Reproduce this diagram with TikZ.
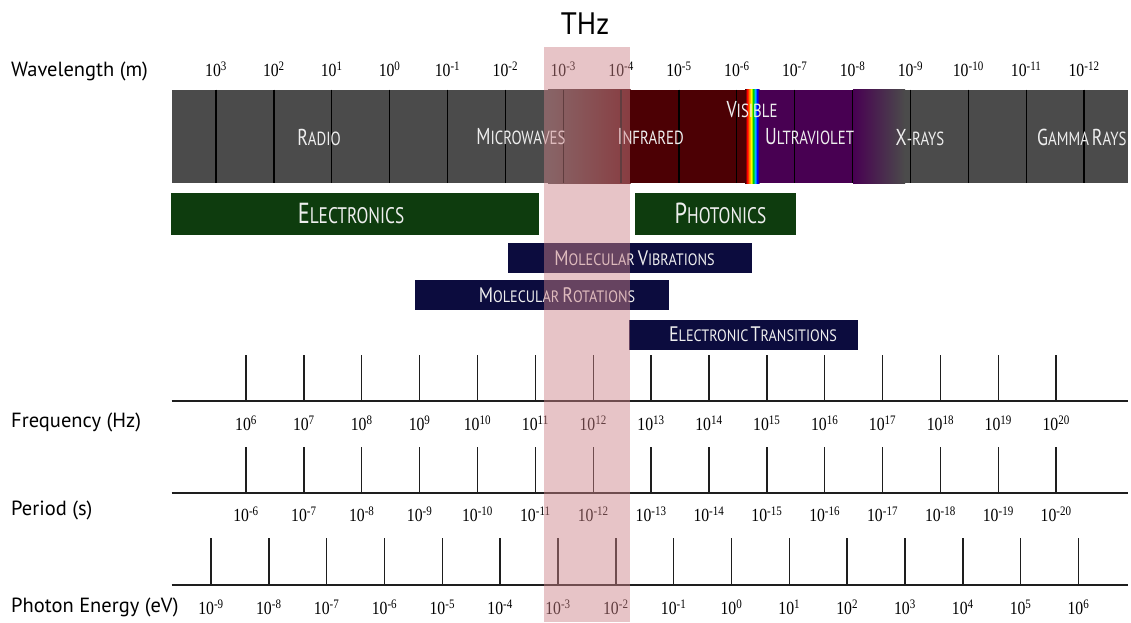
\documentclass[tikz,border=0pt]{standalone}
\usepackage{fontspec}
\setmainfont{Liberation Serif}
\newfontfamily\lab{PT Sans}
\newfontfamily\thzf[FakeStretch=0.93]{PT Sans}
\newfontfamily\labc[FakeStretch=0.78]{PT Sans}
\newfontfamily\labb[FakeStretch=0.77]{PT Sans}
\newfontfamily\labm[FakeStretch=0.86]{PT Sans}
\newfontfamily\numf[FakeStretch=0.85]{Liberation Serif}
\definecolor{bandgray}{RGB}{75,75,75}
\definecolor{irred}{RGB}{76,0,4}
\definecolor{uvpurp}{RGB}{72,0,82}
\definecolor{elgreen}{RGB}{14,60,14}
\definecolor{navyb}{RGB}{12,12,62}
\definecolor{thzpink}{RGB}{205,130,135}
\definecolor{axisk}{RGB}{30,30,30}
\definecolor{txtw}{RGB}{238,238,238}
\newcommand\capsA[4]{{\fontsize{#1}{#1}\selectfont #3}{\fontsize{#2}{#2}\selectfont #4}}
\newcommand\bandsc[2]{\capsA{23}{19}{#1}{#2}}
\newcommand\barsc[2]{\capsA{29}{22.5}{#1}{#2}}
\newcommand\molsc[2]{\capsA{21}{16.5}{#1}{#2}}
\newcommand\pw[1]{10\textsuperscript{#1}}
\tikzset{
  num/.style={inner sep=0pt, font=\numf\fontsize{18.5}{18.5}\selectfont},
  axlab/.style={anchor=west, inner sep=0pt, font=\lab\fontsize{20.5}{20.5}\selectfont},
  bandtxt/.style={inner sep=0pt, text=txtw, font=\labc},
  bartxt/.style={inner sep=0pt, text=txtw, font=\labb},
  moltxt/.style={inner sep=0pt, text=txtw, font=\labm},
  tick/.style={line width=1.4pt, axisk},
  axline/.style={line width=1.8pt, axisk},
  divline/.style={line width=1.3pt, black},
}
\begin{document}
\begin{tikzpicture}[x=1pt,y=-1pt]
\useasboundingbox (0,0) rectangle (1131,622);
% ---- wavelength band ----
\fill[bandgray] (171.5,89.5) rectangle (1128,183);
\shade[left color=bandgray, right color=irred] (548,89.5) rectangle (630.5,183);
\fill[irred] (630,89.5) rectangle (745.5,183);
\shade[left color=irred, right color=red] (745,89.5) rectangle (747.5,183);
\shade[left color=red, right color=orange] (747,89.5) rectangle (749.5,183);
\shade[left color=orange, right color=yellow] (749,89.5) rectangle (751.5,183);
\shade[left color=yellow, right color=green!80!black] (751,89.5) rectangle (753.5,183);
\shade[left color=green!80!black, right color=cyan!70!blue] (753,89.5) rectangle (755.5,183);
\shade[left color=cyan!70!blue, right color=blue] (755,89.5) rectangle (757.5,183);
\shade[left color=blue, right color=uvpurp] (757,89.5) rectangle (759.5,183);
\fill[uvpurp] (759,89.5) rectangle (853.5,183);
\shade[left color=uvpurp, right color=bandgray] (853,89.5) rectangle (905,183);
\foreach \i in {0,...,15}
  \draw[divline] ({216+57.87*\i},89.5) -- ({216+57.87*\i},183);
\begin{scope}
\clip (171.5,89.5) rectangle (1128,183);
\node[bandtxt] (radio) at (319,137) {\bandsc{R}{ADIO}};
\node[bandtxt] (micro) at (521,137) {\bandsc{M}{ICROWAVES}};
\node[bandtxt] (infra) at (650.5,137) {\bandsc{I}{NFRARED}};
\node[bandtxt] (visib) at (752,110) {\bandsc{V}{ISIBLE}};
\node[bandtxt] (ultra) at (809.5,137) {\bandsc{U}{LTRAVIOLET}};
\node[bandtxt] (xray) at (920,137.5) {\bandsc{X}{-RAYS}};
\node[bandtxt, anchor=west] (gamma) at (1037,137) {\bandsc{G}{AMMA}\hspace{3pt}\bandsc{R}{AYS}};
\end{scope}
% ---- wavelength labels ----
\node[axlab] (wlab) at (11,71) {Wavelength (m)};
\foreach \e [count=\i from 0] in {3,2,1,0,-1,-2,-3,-4,-5,-6,-7,-8,-9,-10,-11,-12}
  \node[num] (wl\i) at ({216+57.87*\i},69) {\pw{\e}};
% ---- bars ----
\fill[elgreen] (170.5,192.5) rectangle (539,234.5);
\node[bartxt] (elec) at (351,213.5) {\barsc{E}{LECTRONICS}};
\fill[elgreen] (634.5,192.5) rectangle (795.5,234.5);
\node[bartxt] (phot) at (720.5,213.5) {\barsc{P}{HOTONICS}};
\fill[navyb] (507.5,243) rectangle (752,273);
\node[moltxt] (molvib) at (634.5,258) {\molsc{M}{OLECULAR}\hspace{3pt}\molsc{V}{IBRATIONS}};
\fill[navyb] (415,280) rectangle (668.5,309.5);
\node[moltxt] (molrot) at (557,295) {\molsc{M}{OLECULAR}\hspace{3pt}\molsc{R}{OTATIONS}};
\fill[navyb] (628.5,319.5) rectangle (858,349.5);
\node[moltxt] (eltr) at (753,334.5) {\molsc{E}{LECTRONIC}\hspace{2pt}\molsc{T}{RANSITIONS}};
% ---- frequency ----
\node[axlab] (flab) at (11,422) {Frequency (Hz)};
\draw[axline] (171.5,401) -- (1128,401);
\foreach \e [count=\i from 0] in {6,...,20}{
  \draw[tick] ({246+57.87*\i},355) -- ({246+57.87*\i},401);
  \node[num] (fq\i) at ({246+57.87*\i},423) {\pw{\e}};
}
% ---- period ----
\node[axlab] (plab) at (11,510) {Period (s)};
\draw[axline] (171.5,493) -- (1128,493);
\foreach \e [count=\i from 0] in {-6,-7,-8,-9,-10,-11,-12,-13,-14,-15,-16,-17,-18,-19,-20}{
  \draw[tick] ({246+57.87*\i},447) -- ({246+57.87*\i},493);
  \node[num] (pd\i) at ({246+57.87*\i},514) {\pw{\e}};
}
% ---- photon energy ----
\node[axlab] (elab) at (11,607) {Photon Energy (eV)};
\draw[axline] (171.5,585) -- (1128,585);
\foreach \e [count=\i from 0] in {-9,-8,-7,-6,-5,-4,-3,-2,-1,0,1,2,3,4,5,6}{
  \draw[tick] ({211+57.83*\i},538) -- ({211+57.83*\i},585);
  \node[num] (en\i) at ({211+57.83*\i},607) {\pw{\e}};
}
% ---- THz overlay ----
\fill[thzpink, opacity=0.47] (544,46.5) rectangle (630,622);
\node[inner sep=0pt, font=\thzf\fontsize{31}{31}\selectfont] (thz) at (585,24) {THz};
\end{tikzpicture}
\end{document}
